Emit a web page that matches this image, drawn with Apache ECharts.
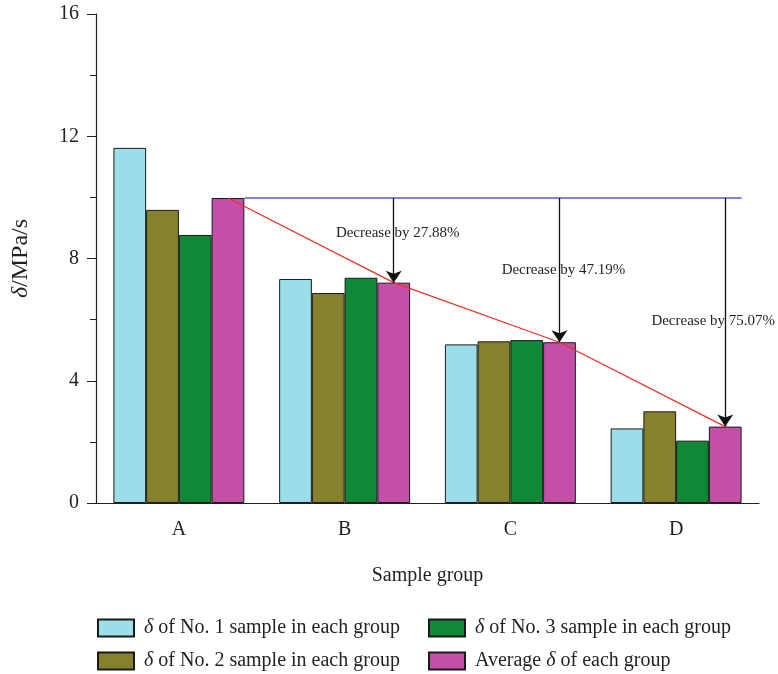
<!DOCTYPE html>
<html>
<head>
<meta charset="utf-8">
<title>Sample group</title>
<script src="https://cdn.jsdelivr.net/npm/echarts@6/dist/echarts.min.js"></script>
<style>
  html, body { margin: 0; padding: 0; background: #fff; }
  #chart { width: 778px; height: 674px; }
</style>
</head>
<body>
<div id="chart"></div>
<script>
// data
var categories = ['A', 'B', 'C', 'D'];
var sample1 = [11.62, 7.33, 5.19, 2.44];
var sample2 = [9.59, 6.87, 5.29, 3.00];
var sample3 = [8.77, 7.37, 5.33, 2.04];
var average = [9.98, 7.21, 5.26, 2.50];
var decreaseLabels = ['Decrease by 27.88%', 'Decrease by 47.19%', 'Decrease by 75.07%'];
var yTicks = [0, 4, 8, 12, 16];

var FONT = '"Liberation Serif", "DejaVu Serif", serif';
var INK = '#231f20';
var catGap = 0.21;                 // barCategoryGap as fraction
var barW = (1 - catGap) / 4;       // width of one bar in category units
var noteOffsets = [[4, -7], [4, 0], [-12, 9]];   // pixel nudges for the notes

// centre / right edge of the "average" bar in each group (value x-axis: 0..4)
function avgCenter(i) { return i + 0.5 + 1.5 * barW; }
function avgRight(i) { return i + 0.5 + 2 * barW; }

var redLine = average.map(function (v, i) { return [avgCenter(i), v]; });
var blueLine = [[avgRight(0), average[0]], [avgRight(categories.length - 1), average[0]]];
var arrows = [];
var notes = [];
for (var i = 1; i < categories.length; i++) {
  arrows.push({ coords: [[avgCenter(i), average[0]], [avgCenter(i), average[i]]] });
  notes.push({
    value: [avgCenter(i), (average[0] + average[i]) / 2],
    name: decreaseLabels[i - 1],
    label: { offset: noteOffsets[i - 1] }
  });
}

var legendNames = {
  s1: '{i|δ} of No. 1 sample in each group',
  s2: '{i|δ} of No. 2 sample in each group',
  s3: '{i|δ} of No. 3 sample in each group',
  avg: 'Average {i|δ} of each group'
};
function rich(size) {
  return { i: { fontStyle: 'italic', fontFamily: FONT, fontSize: size, color: INK } };
}

function barSeries(name, data, color) {
  return {
    name: name, type: 'bar', data: data,
    xAxisIndex: 0, yAxisIndex: 0,
    barGap: '0%', barCategoryGap: (catGap * 100) + '%',
    itemStyle: { color: color, borderColor: '#1a1a1a', borderWidth: 1 }
  };
}

function legendAt(name, left, top) {
  return {
    left: left, top: top, data: [name], icon: 'rect',
    itemWidth: 36, itemHeight: 17,
    formatter: function (n) { return legendNames[n]; },
    textStyle: { fontFamily: FONT, fontSize: 20, color: INK, padding: [0, 0, 0, 5], rich: rich(20) }
  };
}

var chart = echarts.init(document.getElementById('chart'));

chart.setOption({
  animation: false,
  backgroundColor: '#fff',
  textStyle: { fontFamily: FONT },
  grid: { left: 96, right: 19, top: 14, bottom: 171 },
  legend: [
    legendAt('s1', 92, 613),
    legendAt('s3', 423, 613),
    legendAt('s2', 92, 646),
    legendAt('avg', 423, 646)
  ],
  xAxis: [{
    type: 'category', data: categories, position: 'bottom',
    name: 'Sample group', nameLocation: 'middle', nameGap: 63,
    nameTextStyle: { fontFamily: FONT, fontSize: 20, color: INK },
    axisLine: { lineStyle: { color: INK, width: 1.2 } },
    axisTick: { alignWithLabel: true, length: 10, lineStyle: { color: INK } },
    axisLabel: { margin: 17, fontFamily: FONT, fontSize: 20, color: INK }
  }, {
    type: 'category', data: categories, position: 'bottom',
    axisLine: { show: false },
    axisTick: { length: 5, lineStyle: { color: INK } },
    axisLabel: { show: false }
  }, {
    type: 'value', min: 0, max: categories.length, show: false
  }],
  yAxis: {
    type: 'value', min: yTicks[0], max: yTicks[yTicks.length - 1], interval: 4,
    name: '{i|δ}/MPa/s', nameLocation: 'middle', nameRotate: 90, nameGap: 63,
    nameTextStyle: { fontFamily: FONT, fontSize: 24, color: INK, rich: rich(24) },
    axisLine: { show: true, lineStyle: { color: INK, width: 1.2 } },
    axisTick: { show: true, length: 9, lineStyle: { color: INK } },
    minorTick: { show: true, splitNumber: 2, length: 6, lineStyle: { color: INK } },
    splitLine: { show: false },
    axisLabel: { margin: 17, fontFamily: FONT, fontSize: 20, color: INK }
  },
  series: [
    barSeries('s1', sample1, '#9bdeea'),
    barSeries('s2', sample2, '#86812d'),
    barSeries('s3', sample3, '#118836'),
    barSeries('avg', average, '#c44fa8'),
    {
      type: 'line', xAxisIndex: 2, data: blueLine, symbol: 'none', z: 5,
      lineStyle: { color: '#5a5fc0', width: 1.4 }
    },
    {
      type: 'line', xAxisIndex: 2, data: redLine, symbol: 'none', z: 6,
      lineStyle: { color: '#e8332a', width: 1.3 }
    },
    {
      type: 'lines', coordinateSystem: 'cartesian2d', xAxisIndex: 2, yAxisIndex: 0,
      data: arrows, symbol: ['none', 'arrow'], symbolSize: [0, 12], z: 7,
      lineStyle: { color: '#111', width: 1.3, opacity: 1 }
    },
    {
      type: 'scatter', xAxisIndex: 2, data: notes, symbolSize: 0, z: 8,
      itemStyle: { opacity: 1 },
      label: {
        show: true, position: 'inside', formatter: '{b}', opacity: 1,
        fontFamily: FONT, fontSize: 15, color: INK
      }
    }
  ]
});
</script>
</body>
</html>
